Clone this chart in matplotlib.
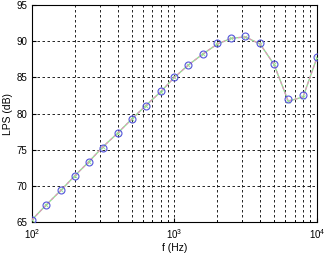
import numpy as np
import matplotlib.pyplot as plt
from matplotlib.ticker import LogLocator, NullFormatter

# third-octave band centre frequencies
freq = [100, 125, 160, 200, 250, 315, 400, 500, 630, 800, 1000,
        1250, 1600, 2000, 2500, 3150, 4000, 5000, 6300, 8000, 10000]
# measured LPS (circles)
lps_meas = [65.3, 67.3, 69.4, 71.4, 73.3, 75.3, 77.3, 79.2, 81.1, 83.1, 85.0,
            86.7, 88.3, 89.7, 90.5, 90.7, 89.7, 86.9, 82.0, 82.5, 87.8]
# computed LPS (lines)
lps_calc = [65.3, 67.3, 69.4, 71.4, 73.3, 75.4, 77.3, 79.2, 81.1, 83.0, 85.0,
            86.7, 88.3, 89.6, 90.4, 90.6, 89.6, 86.8, 81.7, 82.3, 87.7]

plt.rcParams['font.family'] = ['Liberation Sans', 'DejaVu Sans']

fig = plt.figure(figsize=(3.26, 2.54), dpi=100)
ax = fig.add_axes([0.098, 0.126, 0.874, 0.854])

ax.plot(freq, lps_calc, color='#8fe08f', lw=1.0, marker='x', ms=3, mew=0.6, zorder=3)
ax.plot(freq, lps_calc, color='#e890c0', lw=0.8, ls=(0, (3, 2)), zorder=4)
ax.plot(freq, lps_meas, ls='none', marker='o', ms=5, mfc='none', mec='#5555dd',
        mew=0.8, zorder=5)

ax.set_xscale('log')
ax.set_xlim(100, 10000)
ax.set_ylim(65, 95)
ax.set_yticks([65, 70, 75, 80, 85, 90, 95])
ax.xaxis.set_minor_locator(LogLocator(base=10, subs=np.arange(2, 10)))
ax.xaxis.set_minor_formatter(NullFormatter())

ax.grid(True, which='major', color='black', ls=(0, (3, 3)), lw=0.6)
ax.grid(True, which='minor', axis='x', color='black', ls=(0, (3, 3)), lw=0.6)

ax.tick_params(which='both', direction='in', labelsize=7, length=3)
ax.tick_params(which='minor', length=1.5)
for s in ax.spines.values():
    s.set_linewidth(0.8)

ax.set_xlabel('f (Hz)', fontsize=7.5, labelpad=2)
ax.set_ylabel('LPS (dB)', fontsize=7.5, labelpad=2)

fig.savefig('out.png', dpi=100)
